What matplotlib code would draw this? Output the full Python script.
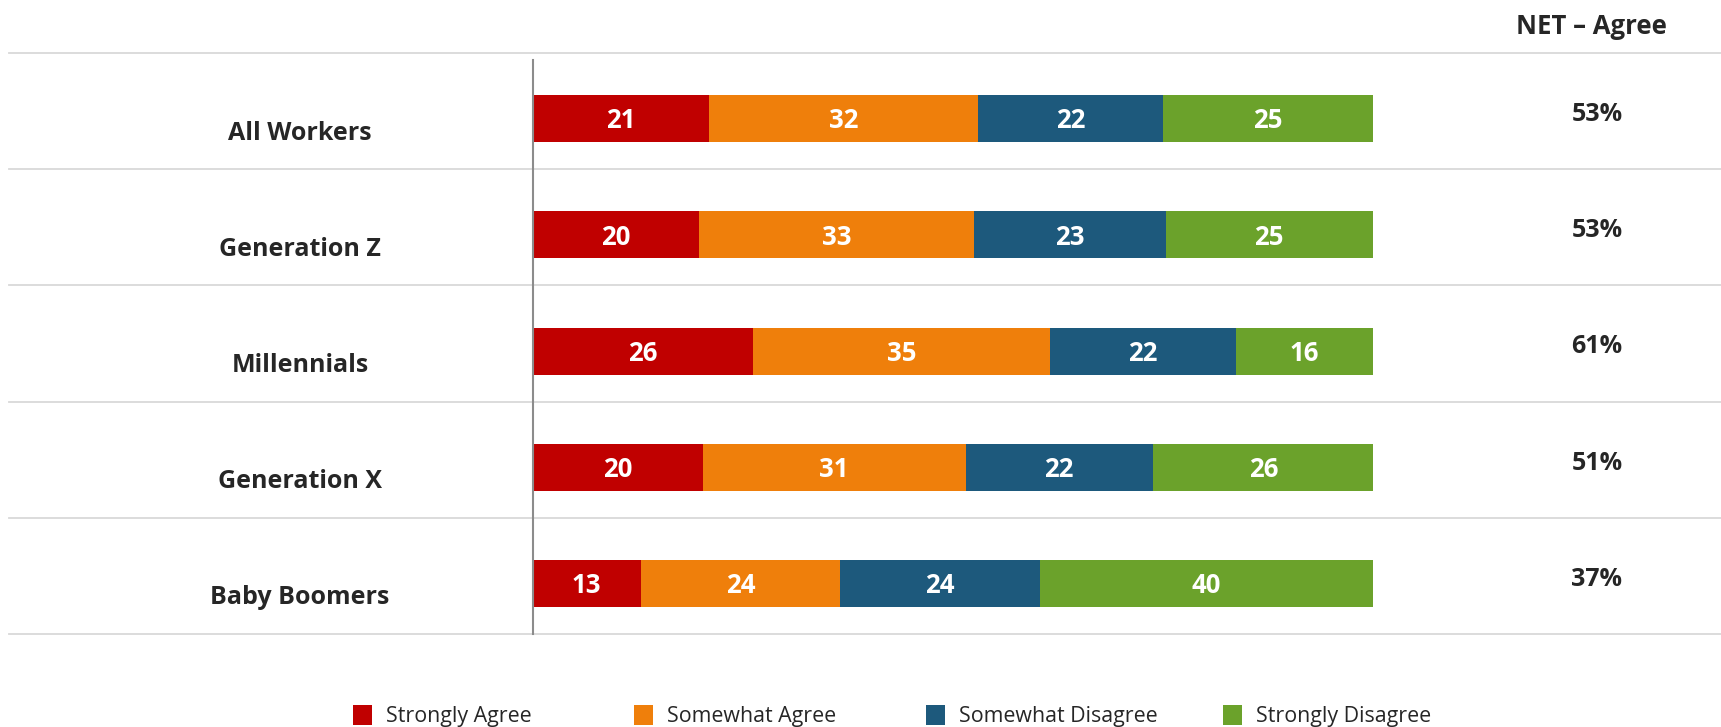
import matplotlib.pyplot as plt
import numpy as np
from matplotlib.patches import Patch
from matplotlib.transforms import blended_transform_factory

plt.rcParams['font.family'] = ['Open Sans', 'DejaVu Sans']

groups = ['All Workers', 'Generation Z', 'Millennials', 'Generation X', 'Baby Boomers']
series = ['Strongly Agree', 'Somewhat Agree', 'Somewhat Disagree', 'Strongly Disagree']
strongly_agree = [20.9, 19.8, 26.2, 20.2, 12.8]
somewhat_agree = [32.1, 32.7, 35.4, 31.3, 23.8]
somewhat_disagree = [22.0, 22.8, 22.1, 22.3, 23.7]
strongly_disagree = [25.0, 24.7, 16.3, 26.3, 39.7]
net_agree = ['53%', '53%', '61%', '51%', '37%']
colors = ['#C00000', '#EF7F0B', '#1D597C', '#6BA22B']

W, H = 1721, 727
fig = plt.figure(figsize=(W / 100, H / 100), dpi=100)
ax = fig.add_axes([533 / W, 1 - 634 / H, 840 / W, 581 / H])
ax.set_xlim(0, 100)
ax.set_ylim(5, 0)
ax.axis('off')

txt = '#262626'
y = np.arange(len(groups)) + 0.565
left = np.zeros(len(groups))
for vals, col in zip([strongly_agree, somewhat_agree, somewhat_disagree, strongly_disagree], colors):
    vals = np.array(vals)
    ax.barh(y, vals, left=left, height=0.405, color=col, edgecolor='none')
    for yy, l, v in zip(y, left, vals):
        ax.text(l + v / 2, yy + 0.02, f'{v:.0f}', ha='center', va='center',
                color='white', fontsize=18.5, fontweight='bold')
    left = left + vals

# row separators across the whole figure
tr = blended_transform_factory(fig.transFigure, ax.transData)
for i in range(len(groups) + 1):
    ax.plot([9 / W, 1], [i, i], transform=tr, color='#D9D9D9', lw=1.3, clip_on=False)

# vertical axis line
ax.plot([0, 0], [0.06, 5], color='#8C8C8C', lw=1.5, clip_on=False)

for i, (g, n) in enumerate(zip(groups, net_agree)):
    ax.text(300 / W, i + 0.69, g, transform=tr, ha='center', va='center',
            fontsize=18, fontweight='bold', color=txt)
    ax.text(1597 / W, i + 0.53, n, transform=tr, ha='center', va='center',
            fontsize=18, fontweight='bold', color=txt)

fig.text(1591 / W, 1 - 26 / H, 'NET – Agree', ha='center', va='center',
         fontsize=18.5, fontweight='bold', color=txt)

# legend: one entry per column, columns placed like the original
legend_x = [353, 634, 926, 1223]
for c, s, lx in zip(colors, series, legend_x):
    leg = fig.legend([Patch(facecolor=c, edgecolor='none')], [s], loc='center left',
                     bbox_to_anchor=(lx / W, 1 - 716 / H), frameon=False, fontsize=15.4,
                     handlelength=0.9, handleheight=1.05, handletextpad=0.65,
                     borderpad=0, borderaxespad=0, labelcolor=txt)

fig.savefig('out.png', dpi=100)
